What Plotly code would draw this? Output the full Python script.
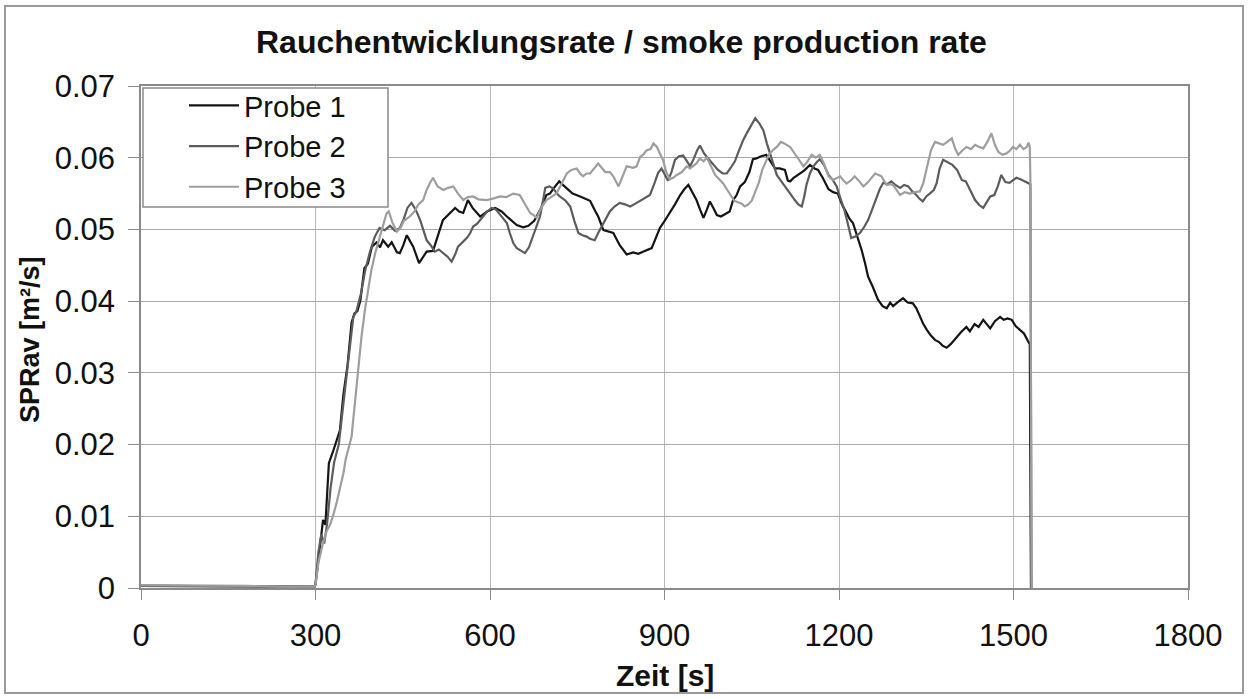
import plotly.graph_objects as go

# ---------------- data ----------------
t1 = [0, 60, 120, 180, 240, 298, 300, 305, 310, 313, 317, 323, 330, 342, 348, 355, 362, 367, 372, 377,
      384, 390, 397, 405, 411, 416, 425, 431, 440, 445, 451, 457, 463, 468, 478, 485, 491, 502, 510, 519,
      530, 540, 547, 554, 562, 570, 583, 595, 609, 620, 629, 646, 657, 666, 676, 686, 697, 703, 710, 719,
      731, 742, 755, 765, 772, 780, 786, 795, 803, 812, 823, 835, 846, 855, 863, 878, 886, 892, 898, 909,
      918, 927, 934, 941, 948, 955, 961, 967, 973, 978, 984, 990, 997, 1005, 1012, 1018, 1024, 1030, 1038,
      1046, 1052, 1058, 1066, 1075, 1082, 1090, 1098, 1107, 1112, 1116, 1122, 1130, 1140, 1150, 1158, 1164,
      1172, 1182, 1190, 1198, 1205, 1213, 1218, 1224, 1232, 1239, 1245, 1250, 1258, 1267, 1275, 1282, 1288,
      1293, 1300, 1310, 1318, 1327, 1333, 1339, 1345, 1351, 1358, 1365, 1372, 1378, 1385, 1392, 1402, 1410,
      1419, 1425, 1433, 1440, 1448, 1454, 1460, 1468, 1477, 1483, 1490, 1497, 1504, 1511, 1518, 1525, 1528,
      1530]
probe1 = [0.0003, 0.0003, 0.0002, 0.0002, 0.0002, 0.0002, 0.0005, 0.004, 0.008, 0.0095, 0.0088, 0.0174,
          0.019, 0.022, 0.027, 0.031, 0.037, 0.0383, 0.0386, 0.040, 0.0446, 0.0452, 0.0476, 0.0482, 0.0475,
          0.0485, 0.0476, 0.0482, 0.0468, 0.0467, 0.0478, 0.0492, 0.0483, 0.0476, 0.0453, 0.0462, 0.0469,
          0.047, 0.049, 0.0513, 0.0522, 0.053, 0.0525, 0.0523, 0.0541, 0.053, 0.0518, 0.0525, 0.053, 0.0525,
          0.0518, 0.0506, 0.0503, 0.0505, 0.0512, 0.0527, 0.0548, 0.055, 0.0558, 0.0567, 0.0558, 0.055,
          0.0546, 0.0543, 0.054, 0.0527, 0.0518, 0.0499, 0.0497, 0.0495, 0.0478, 0.0465, 0.0468, 0.0466,
          0.0469, 0.0474, 0.049, 0.0502, 0.0509, 0.0523, 0.0535, 0.0548, 0.0556, 0.0562, 0.0552, 0.0541,
          0.0528, 0.0516, 0.0528, 0.0539, 0.053, 0.052, 0.0518, 0.0522, 0.0525, 0.0541, 0.0548, 0.056, 0.0566,
          0.058, 0.0598, 0.0599, 0.0602, 0.0604, 0.0595, 0.0585, 0.0585, 0.0583, 0.0568, 0.0567, 0.0572,
          0.0576, 0.0582, 0.059, 0.0585, 0.0583, 0.0572, 0.0556, 0.0552, 0.055, 0.0535, 0.0523, 0.0515,
          0.0509, 0.049, 0.0471, 0.0452, 0.0434, 0.042, 0.0402, 0.0393, 0.039, 0.0398, 0.0393, 0.0398, 0.0404,
          0.0398, 0.0397, 0.039, 0.0378, 0.0368, 0.036, 0.0352, 0.0346, 0.0343, 0.0338, 0.0335, 0.034, 0.035,
          0.0357, 0.0364, 0.0358, 0.0368, 0.0364, 0.0374, 0.0368, 0.0362, 0.0372, 0.0378, 0.0374, 0.0376,
          0.0374, 0.0365, 0.036, 0.0355, 0.0344, 0.034, 0.0]

t2 = [0, 60, 120, 180, 240, 298, 300, 305, 310, 315, 320, 326, 332, 340, 347, 353, 360, 365, 370, 378,
      386, 394, 402, 410, 419, 428, 437, 445, 452, 458, 465, 472, 480, 486, 491, 498, 505, 512, 520, 527,
      534, 540, 545, 552, 560, 566, 571, 578, 586, 595, 603, 610, 618, 629, 634, 640, 646, 653, 660, 667,
      674, 680, 686, 690, 695, 702, 709, 715, 720, 730, 738, 745, 752, 759, 766, 772, 780, 786, 792, 800,
      806, 814, 823, 832, 841, 850, 858, 866, 875, 883, 889, 895, 900, 906, 912, 918, 925, 932, 938, 944,
      950, 956, 961, 968, 975, 983, 992, 1000, 1007, 1014, 1021, 1028, 1035, 1042, 1049, 1056, 1063, 1070,
      1076, 1081, 1087, 1093, 1100, 1110, 1117, 1124, 1130, 1136, 1140, 1144, 1150, 1156, 1162, 1167, 1174,
      1182, 1190, 1196, 1203, 1210, 1216, 1221, 1228, 1236, 1243, 1250, 1258, 1265, 1270, 1276, 1283, 1290,
      1297, 1305, 1312, 1319, 1326, 1333, 1338, 1344, 1350, 1356, 1363, 1368, 1373, 1379, 1387, 1395, 1403,
      1411, 1418, 1425, 1434, 1441, 1448, 1454, 1460, 1467, 1473, 1479, 1486, 1493, 1499, 1505, 1512, 1520,
      1526, 1529, 1531]
probe2 = [0.0003, 0.0003, 0.0003, 0.0002, 0.0002, 0.0002, 0.0005, 0.005, 0.0075, 0.0062, 0.009, 0.014,
          0.0175, 0.020, 0.025, 0.029, 0.034, 0.0378, 0.0385, 0.041, 0.0445, 0.047, 0.049, 0.0502, 0.0499,
          0.0505, 0.0498, 0.0502, 0.0515, 0.053, 0.0537, 0.0528, 0.0513, 0.0498, 0.0485, 0.0478, 0.0469,
          0.0472, 0.0467, 0.0462, 0.0455, 0.0465, 0.0476, 0.0482, 0.0488, 0.0495, 0.0504, 0.0508, 0.0516,
          0.0525, 0.053, 0.0528, 0.052, 0.0509, 0.0495, 0.0481, 0.0474, 0.047, 0.0467, 0.0475, 0.049, 0.0505,
          0.0518, 0.0535, 0.0558, 0.056, 0.0557, 0.055, 0.0546, 0.054, 0.0532, 0.0512, 0.0495, 0.0492, 0.049,
          0.0487, 0.0485, 0.0495, 0.0504, 0.0515, 0.0525, 0.0532, 0.0537, 0.0535, 0.0532, 0.0536, 0.054,
          0.0544, 0.0548, 0.0565, 0.0579, 0.0585, 0.0578, 0.0568, 0.058, 0.0597, 0.0602, 0.0603, 0.0596,
          0.0588, 0.0598, 0.061, 0.0617, 0.0606, 0.0599, 0.0592, 0.0583, 0.0578, 0.0578, 0.0586, 0.0595,
          0.061, 0.0624, 0.0635, 0.0645, 0.0655, 0.0648, 0.0638, 0.062, 0.0606, 0.059, 0.0576, 0.0568, 0.0556,
          0.0548, 0.0541, 0.0535, 0.0532, 0.0545, 0.0562, 0.0578, 0.0588, 0.0594, 0.0598, 0.059, 0.0576,
          0.0568, 0.056, 0.0542, 0.0525, 0.0505, 0.0488, 0.049, 0.0495, 0.0503, 0.0513, 0.053, 0.0546, 0.0556,
          0.0565, 0.0563, 0.0567, 0.0562, 0.0558, 0.0562, 0.056, 0.0553, 0.0548, 0.0543, 0.0539, 0.0546,
          0.055, 0.0555, 0.0565, 0.0585, 0.0597, 0.0593, 0.059, 0.0583, 0.0569, 0.0567, 0.0555, 0.0541,
          0.0534, 0.053, 0.0538, 0.0546, 0.0548, 0.056, 0.0576, 0.0566, 0.0565, 0.0568, 0.0572, 0.057, 0.0567,
          0.0565, 0.0563, 0.0]

t3 = [0, 60, 120, 180, 240, 298, 300, 305, 312, 319, 325, 330, 336, 342, 348, 352, 357, 362, 368, 373,
      379, 385, 390, 396, 403, 411, 417, 422, 426, 432, 440, 446, 452, 462, 470, 477, 485, 491, 497, 502,
      510, 520, 528, 537, 545, 554, 562, 571, 580, 594, 605, 617, 628, 640, 651, 660, 669, 675, 680, 688,
      697, 705, 714, 722, 732, 740, 749, 755, 760, 766, 772, 780, 786, 792, 798, 806, 812, 821, 828, 835,
      846, 852, 858, 863, 869, 876, 881, 887, 892, 897, 903, 909, 915, 921, 930, 938, 944, 955, 961, 967,
      973, 980, 987, 994, 1001, 1008, 1015, 1020, 1026, 1033, 1038, 1044, 1050, 1056, 1062, 1068, 1074,
      1080, 1087, 1093, 1100, 1106, 1116, 1124, 1130, 1139, 1146, 1153, 1160, 1167, 1174, 1182, 1190, 1196,
      1202, 1207, 1213, 1220, 1227, 1234, 1242, 1250, 1256, 1262, 1268, 1273, 1282, 1288, 1293, 1300, 1305,
      1313, 1322, 1331, 1339, 1345, 1351, 1358, 1365, 1372, 1379, 1386, 1394, 1400, 1405, 1412, 1419, 1427,
      1434, 1441, 1448, 1455, 1462, 1468, 1474, 1481, 1488, 1494, 1499, 1505, 1511, 1517, 1523, 1526, 1528,
      1529, 1531]
probe3 = [0.0004, 0.0004, 0.0003, 0.0003, 0.0002, 0.0002, 0.0004, 0.0035, 0.006, 0.0079, 0.0088, 0.010,
          0.0118, 0.0137, 0.016, 0.018, 0.0195, 0.0211, 0.026, 0.0304, 0.035, 0.0388, 0.0415, 0.0443, 0.0468,
          0.049, 0.051, 0.0522, 0.0525, 0.051, 0.0497, 0.0502, 0.0512, 0.0518, 0.0525, 0.0535, 0.0541,
          0.0555, 0.0565, 0.0572, 0.056, 0.0555, 0.0558, 0.056, 0.055, 0.0541, 0.0545, 0.0546, 0.0542,
          0.0541, 0.0543, 0.0546, 0.0545, 0.055, 0.0548, 0.0535, 0.0523, 0.052, 0.0516, 0.053, 0.0541,
          0.0545, 0.055, 0.0562, 0.0578, 0.0583, 0.0585, 0.0578, 0.0574, 0.0578, 0.0578, 0.0586, 0.0592,
          0.0586, 0.058, 0.058, 0.0574, 0.056, 0.0575, 0.0588, 0.0586, 0.0588, 0.0601, 0.0604, 0.061, 0.0612,
          0.062, 0.0615, 0.0606, 0.0598, 0.058, 0.057, 0.0572, 0.0576, 0.058, 0.0588, 0.0585, 0.0592, 0.0599,
          0.0595, 0.06, 0.0588, 0.0576, 0.057, 0.0564, 0.0555, 0.0546, 0.054, 0.0538, 0.0536, 0.0532, 0.0535,
          0.054, 0.0552, 0.0565, 0.0583, 0.0595, 0.0605, 0.0611, 0.0615, 0.0622, 0.062, 0.0615, 0.0605,
          0.0599, 0.0588, 0.0595, 0.0604, 0.06, 0.0604, 0.0592, 0.0574, 0.0569, 0.0572, 0.0574, 0.0569,
          0.0564, 0.0568, 0.0574, 0.0568, 0.056, 0.0566, 0.0572, 0.0578, 0.0576, 0.0574, 0.0562, 0.0563,
          0.0562, 0.0553, 0.0548, 0.0552, 0.055, 0.0552, 0.0553, 0.0565, 0.0588, 0.061, 0.0622, 0.062, 0.0618,
          0.0622, 0.0627, 0.0612, 0.0604, 0.061, 0.0615, 0.0612, 0.0618, 0.0615, 0.0613, 0.0622, 0.0634,
          0.0618, 0.0608, 0.0604, 0.0606, 0.061, 0.0615, 0.0612, 0.0618, 0.0612, 0.0615, 0.0621, 0.0615,
          0.057, 0.0]

series_names = ["Probe 1", "Probe 2", "Probe 3"]
series_colors = ["#141414", "#5c5c5c", "#9e9e9e"]

title_text = "Rauchentwicklungsrate / smoke production rate"
x_title = "Zeit [s]"
y_title = "SPRav [m²/s]"
x_ticks = [0, 300, 600, 900, 1200, 1500, 1800]
y_ticks = [0, 0.01, 0.02, 0.03, 0.04, 0.05, 0.06, 0.07]

FONT = "Liberation Sans, Arial, Helvetica, sans-serif"

# ---------------- figure ----------------
fig = go.Figure()
for tt, vv, name, col in zip([t1, t2, t3], [probe1, probe2, probe3], series_names, series_colors):
    fig.add_trace(go.Scatter(x=tt, y=vv, mode="lines", name=name,
                             line=dict(color=col, width=2.2)))

L, R, T, B = 141, 60, 86, 111
W, H = 1248, 699
pw, ph = W - L - R, H - T - B

def px_x(x):
    return (x - L) / pw

def px_y(y):
    return (H - B - y) / ph

fig.update_layout(
    width=W, height=H,
    margin=dict(l=L, r=R, t=T, b=B, autoexpand=False),
    paper_bgcolor="white", plot_bgcolor="white",
    font=dict(family=FONT, size=31, color="#111"),
    showlegend=True,
    legend=dict(x=px_x(184), y=px_y(80), xanchor="left", yanchor="top",
                bgcolor="rgba(0,0,0,0)", borderwidth=0,
                font=dict(size=29, family=FONT, color="#111"),
                itemwidth=50, tracegroupgap=0),
    xaxis=dict(range=[0, 1800], tickvals=x_ticks, ticks="outside", ticklen=10,
               tickcolor="#8a8a8a", showline=True, linecolor="#8a8a8a", linewidth=1.5,
               mirror=True, showgrid=True, gridcolor="#b8b8b8", gridwidth=1,
               zeroline=False, ticklabelstandoff=9,
               tickfont=dict(size=31, family=FONT, color="#111")),
    yaxis=dict(range=[0, 0.07], tickvals=y_ticks, ticktext=[f"{v:g}" for v in y_ticks],
               ticks="outside", ticklen=11,
               tickcolor="#8a8a8a", showline=True, linecolor="#8a8a8a", linewidth=1.5,
               mirror=True, showgrid=True, gridcolor="#a8a8a8", gridwidth=1,
               zeroline=False, ticklabelstandoff=7,
               tickfont=dict(size=31, family=FONT, color="#111")),
    annotations=[
        dict(text="<b>" + title_text + "</b>", xref="paper", yref="paper",
             x=px_x(621), y=px_y(42), xanchor="center", yanchor="middle",
             showarrow=False, font=dict(size=32, family=FONT, color="#111")),
        dict(text="<b>" + x_title + "</b>", xref="paper", yref="paper",
             x=0.5, y=px_y(675), xanchor="center", yanchor="middle",
             showarrow=False, font=dict(size=30, family=FONT, color="#111")),
        dict(text="<b>" + y_title + "</b>", xref="paper", yref="paper",
             x=px_x(30), y=px_y(340), xanchor="center", yanchor="middle", textangle=-90,
             showarrow=False, font=dict(size=27, family=FONT, color="#111")),
    ],
    shapes=[
        dict(type="rect", xref="paper", yref="paper",
             x0=px_x(5), x1=px_x(1243), y0=px_y(693), y1=px_y(6),
             line=dict(color="#9a9a9a", width=2), fillcolor="rgba(0,0,0,0)", layer="below"),
        dict(type="rect", xref="paper", yref="paper",
             x0=px_x(143), x1=px_x(388), y0=px_y(207), y1=px_y(88),
             line=dict(color="#8a8a8a", width=1.5), fillcolor="white", layer="above"),
    ],
)

fig.write_html("out.html", config={"displayModeBar": False},
               post_script="document.body.style.margin='0';")
